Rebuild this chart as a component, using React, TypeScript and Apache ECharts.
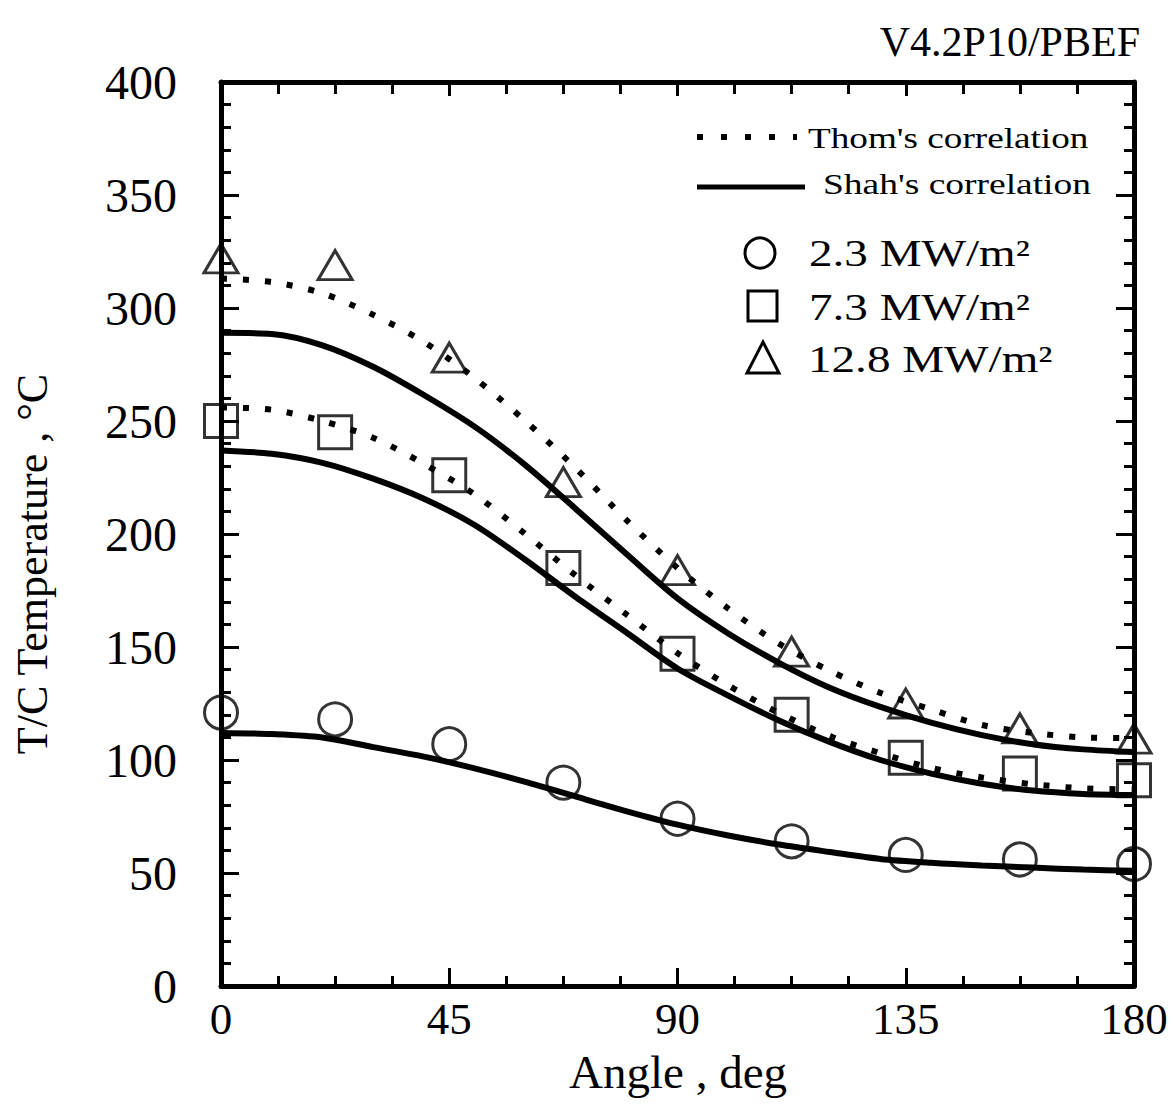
import React, { useEffect, useRef } from 'react';
import * as echarts from 'echarts';

// measured points
const angles = [0, 22.5, 45, 67.5, 90, 112.5, 135, 157.5, 180];
const meas23 = [121, 118, 107, 90, 74, 64, 58, 56, 54];
const meas73 = [250, 245, 226, 185, 147, 120, 101, 94, 91];
const meas128 = [322, 319, 278, 223, 184, 148, 125, 114, 109.5];

// correlation curves
const curveAngles = [0, 10, 20, 30, 40, 50, 60, 70, 80, 90, 100, 110, 120, 130, 140, 150, 160, 170, 180];
const thom128 = [313, 311.5, 306.5, 297, 285, 269, 250, 229, 206, 185, 167, 151.5, 139.5, 129.7, 122.4, 115.5, 112, 110, 109.7];
const shah128 = [289, 288.5, 283.5, 274, 261.5, 247.5, 230.5, 211, 191, 171.5, 156, 143, 132, 123.5, 116.5, 111, 107, 104.7, 103.5];
const thom73 = [256, 255, 250, 242.6, 231, 217.5, 200, 181.5, 164.3, 147.3, 133, 120.8, 110.6, 103, 96.5, 92.3, 89.3, 87.5, 87];
const shah73 = [237, 235.5, 231.5, 224.5, 215.6, 204, 188.6, 172, 156.3, 140.5, 128.5, 117.5, 108, 100, 94, 89.5, 86.5, 85, 84.5];
const shah23 = [112, 111.5, 110, 105.7, 101.5, 96.3, 90.3, 83.8, 77.3, 71.4, 66.6, 62.6, 59.3, 56.2, 54.5, 53.3, 52.4, 51.5, 51];

const xTicks = [0, 45, 90, 135, 180];
const yTicks = [0, 50, 100, 150, 200, 250, 300, 350, 400];

const FONT = '"Liberation Serif", "Times New Roman", serif';

const zip = (xs: number[], ys: number[]) => xs.map((x, i) => [x, ys[i]]);

export default function App() {
  const ref = useRef<HTMLDivElement>(null);
  useEffect(() => {
    document.body.style.margin = '0';
    const chart = echarts.init(ref.current!, null, { renderer: 'svg' });
    const axisCommon = {
      type: 'value',
      axisLine: { show: true, onZero: false, lineStyle: { color: '#000', width: 5 } },
      axisTick: { show: true, inside: true, length: 18, lineStyle: { color: '#000', width: 3 } },
      splitLine: { show: false },
    };
    const dotted = { color: '#000', width: 6, type: [6, 16] as any, cap: 'butt' };
    const solid = { color: '#000', width: 6 };
    const lineSeries = (name: string, ys: number[], style: any) => ({
      name,
      type: 'line',
      data: zip(curveAngles, ys),
      showSymbol: false,
      smooth: 0.3,
      lineStyle: style,
      z: 2,
    });
    const scatter = (name: string, ys: number[], symbol: string, size: any) => ({
      name,
      type: 'scatter',
      data: zip(angles, ys),
      symbol,
      symbolSize: size,
      itemStyle: { color: 'rgba(255,255,255,0)', borderColor: '#000', borderWidth: 3 },
      z: 3,
    });
    chart.setOption({
      animation: false,
      backgroundColor: '#fff',
      grid: { left: 221, right: 39, top: 82, bottom: 120, containLabel: false },
      xAxis: [
        {
          ...axisCommon,
          position: 'bottom',
          min: 0,
          max: 180,
          interval: 45,
          minorTick: { show: true, splitNumber: 4, length: 10, lineStyle: { color: '#000', width: 3 } },
          axisLabel: {
            color: '#000',
            fontSize: 45,
            fontFamily: FONT,
            margin: 10,
            formatter: (v: number) => (xTicks.includes(v) ? String(v) : ''),
          },
        },
        {
          ...axisCommon,
          position: 'top',
          min: 0,
          max: 180,
          interval: 45,
          axisTick: { ...axisCommon.axisTick, length: 14 },
          minorTick: { show: true, splitNumber: 4, length: 12, lineStyle: { color: '#000', width: 3 } },
          axisLabel: { show: false },
        },
      ],
      yAxis: [
        {
          ...axisCommon,
          position: 'left',
          min: 0,
          max: 400,
          interval: 50,
          minorTick: { show: true, splitNumber: 5, length: 10, lineStyle: { color: '#000', width: 3 } },
          axisLabel: {
            color: '#000',
            fontSize: 48,
            fontFamily: FONT,
            margin: 44,
            formatter: (v: number) => (yTicks.includes(v) ? String(v) : ''),
          },
        },
        {
          ...axisCommon,
          position: 'right',
          min: 0,
          max: 400,
          interval: 50,
          minorTick: { show: true, splitNumber: 5, length: 10, lineStyle: { color: '#000', width: 3 } },
          axisLabel: { show: false },
        },
      ],
      series: [
        lineSeries("Thom's correlation 12.8", thom128, dotted),
        lineSeries("Shah's correlation 12.8", shah128, solid),
        lineSeries("Thom's correlation 7.3", thom73, dotted),
        lineSeries("Shah's correlation 7.3", shah73, solid),
        lineSeries("Shah's correlation 2.3", shah23, solid),
        scatter('2.3 MW/m²', meas23, 'circle', 33),
        scatter('7.3 MW/m²', meas73, 'rect', 33),
        scatter('12.8 MW/m²', meas128, 'triangle', [34, 29]),
      ],
      graphic: [
        {
          type: 'text',
          x: 1140,
          y: 42,
          style: { text: 'V4.2P10/PBEF', fontSize: 42, fontFamily: FONT, fill: '#000', align: 'right', verticalAlign: 'middle' },
        },
        {
          type: 'text',
          x: 32,
          y: 564,
          rotation: Math.PI / 2,
          style: { text: 'T/C Temperature , °C', fontSize: 44, fontFamily: FONT, fill: '#000', align: 'center', verticalAlign: 'middle' },
        },
        {
          type: 'text',
          x: 678,
          y: 1072,
          style: { text: 'Angle , deg', fontSize: 47, fontFamily: FONT, fill: '#000', align: 'center', verticalAlign: 'middle' },
        },
        // legend
        {
          type: 'line',
          shape: { x1: 697, y1: 137, x2: 797, y2: 137 },
          style: { stroke: '#000', lineWidth: 6, lineDash: [6, 18] },
        },
        {
          type: 'text',
          x: 808,
          y: 138,
          scaleX: 1.24,
          style: { text: "Thom's correlation", fontSize: 30, fontFamily: FONT, fill: '#000', align: 'left', verticalAlign: 'middle' },
        },
        {
          type: 'line',
          shape: { x1: 697, y1: 187, x2: 805, y2: 187 },
          style: { stroke: '#000', lineWidth: 5 },
        },
        {
          type: 'text',
          x: 823,
          y: 184,
          scaleX: 1.25,
          style: { text: "Shah's correlation", fontSize: 30, fontFamily: FONT, fill: '#000', align: 'left', verticalAlign: 'middle' },
        },
        {
          type: 'circle',
          shape: { cx: 760, cy: 253, r: 15 },
          style: { fill: 'none', stroke: '#000', lineWidth: 3 },
        },
        {
          type: 'text',
          x: 809,
          y: 253,
          scaleX: 1.24,
          style: { text: '2.3 MW/m²', fontSize: 38, fontFamily: FONT, fill: '#000', align: 'left', verticalAlign: 'middle' },
        },
        {
          type: 'rect',
          shape: { x: 748, y: 291, width: 29, height: 30 },
          style: { fill: 'none', stroke: '#000', lineWidth: 3 },
        },
        {
          type: 'text',
          x: 809,
          y: 307,
          scaleX: 1.24,
          style: { text: '7.3 MW/m²', fontSize: 38, fontFamily: FONT, fill: '#000', align: 'left', verticalAlign: 'middle' },
        },
        {
          type: 'polygon',
          shape: { points: [[747, 373], [779, 373], [763, 342]] },
          style: { fill: 'none', stroke: '#000', lineWidth: 3 },
        },
        {
          type: 'text',
          x: 808,
          y: 359,
          scaleX: 1.24,
          style: { text: '12.8 MW/m²', fontSize: 38, fontFamily: FONT, fill: '#000', align: 'left', verticalAlign: 'middle' },
        },
      ],
    });
    return () => chart.dispose();
  }, []);
  return <div ref={ref} style={{ width: 1173, height: 1106, background: '#fff' }} />;
}
